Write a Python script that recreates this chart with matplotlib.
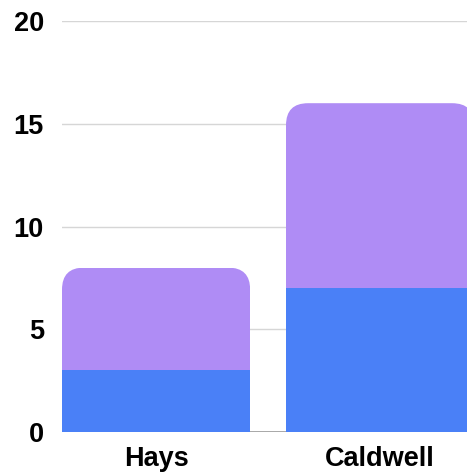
import matplotlib
matplotlib.use('Agg')
import matplotlib.pyplot as plt
from matplotlib.path import Path
from matplotlib.transforms import IdentityTransform

# dados
categorias = ['Hays', 'Caldwell']
serie_base = [3, 7]
serie_topo = [5, 9]
ticks_y = [0, 5, 10, 15, 20]

cor_azul = '#4a80f7'
cor_roxo = '#af8cf5'
cor_grade = '#d6d6d6'
cor_zero = '#9a9a9a'

plt.rcParams['font.family'] = ['Liberation Sans', 'DejaVu Sans']

fig = plt.figure(figsize=(4.67, 4.73), dpi=100)
ax = fig.add_axes([62 / 467, 41 / 473, 1 - 62 / 467, 411 / 473])

x = list(range(len(categorias)))
largura = 0.84
ax.bar(x, serie_base, width=largura, color=cor_azul, zorder=3)
barras_topo = ax.bar(x, serie_topo, bottom=serie_base, width=largura,
                     color=cor_roxo, zorder=3)

ax.set_xlim(-largura / 2, (467 - 62) / 224 - largura / 2)
ax.set_ylim(0, 20)
ax.set_yticks(ticks_y)
ax.set_xticks(x)
ax.set_xticklabels(categorias, fontsize=19.5, fontweight='bold')
ax.set_yticklabels([str(t) for t in ticks_y], fontsize=19.5, fontweight='bold')
ax.tick_params(axis='y', length=0, pad=13)
ax.tick_params(axis='x', length=0, pad=10)

for t in ticks_y[1:]:
    ax.axhline(t, color=cor_grade, linewidth=1, zorder=1)
ax.axhline(0, color=cor_zero, linewidth=1.2, zorder=2)

for s in ax.spines.values():
    s.set_visible(False)

# cantos superiores arredondados
raio = 22
for ret in barras_topo:
    (x0, y0), (x1, y1) = ax.transData.transform(
        [(ret.get_x(), ret.get_y()),
         (ret.get_x() + ret.get_width(), ret.get_y() + ret.get_height())])
    verts = [(x0, y0), (x0, y1 - raio), (x0, y1), (x0 + raio, y1),
             (x1 - raio, y1), (x1, y1), (x1, y1 - raio), (x1, y0), (x0, y0)]
    codes = [Path.MOVETO, Path.LINETO, Path.CURVE3, Path.CURVE3,
             Path.LINETO, Path.CURVE3, Path.CURVE3, Path.LINETO, Path.CLOSEPOLY]
    ret.set_clip_path(Path(verts, codes), IdentityTransform())

fig.savefig('out.png', dpi=100, facecolor='white')
